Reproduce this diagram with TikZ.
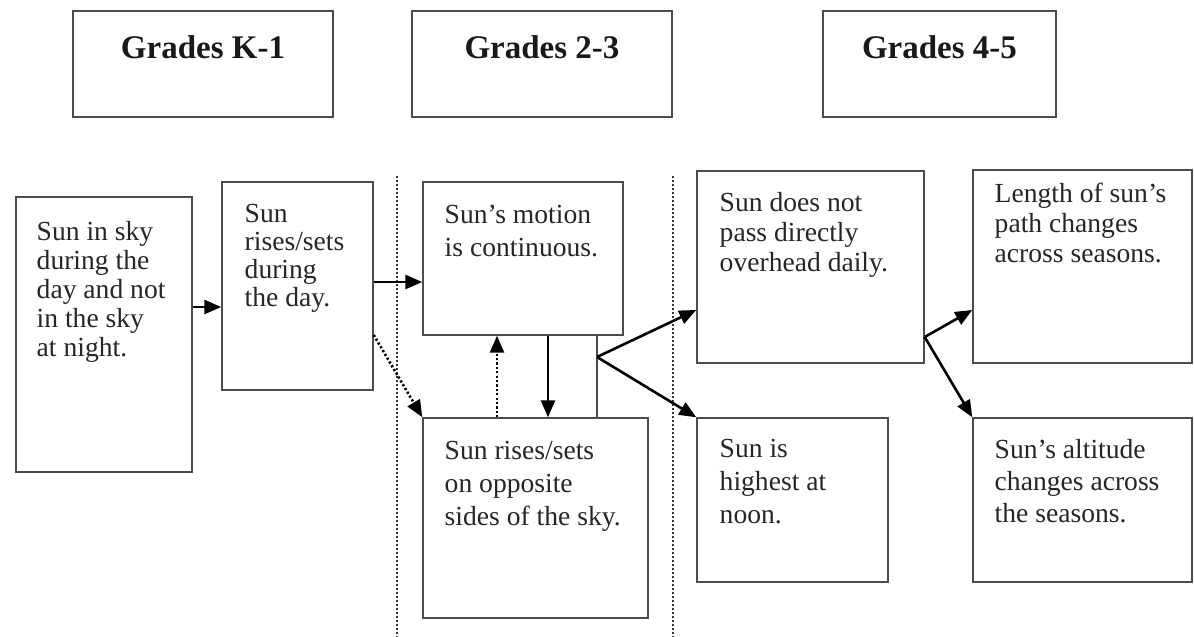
\documentclass[tikz,border=0pt]{standalone}
\usepackage{fontspec}
\setmainfont{Liberation Serif}
\usetikzlibrary{arrows.meta,fit}

\tikzset{
  gradebox/.style={draw=black!70, line width=0.7pt, inner sep=0pt},
  ideabox/.style={draw=black!70, line width=0.7pt, inner sep=0pt},
  gradelbl/.style={inner sep=0pt, anchor=base, text=black!90, font=\fontsize{16.5}{19}\bfseries},
  idealbl/.style={inner sep=0pt, anchor=north west, align=left, text=black!85, font=\fontsize{13.8}{#1}\selectfont},
  idealbl/.default=16,
  flow/.style={line width=1.3pt, -{Triangle[length=8.5pt,width=7pt]}},
  hint/.style={flow, dash pattern=on 1.1pt off 1.1pt},
  divider/.style={black!80, line width=0.6pt, dash pattern=on 0.8pt off 1.2pt},
  link/.style={black!70, line width=0.7pt},
}

\begin{document}
\begin{tikzpicture}[x=0.5pt,y=-0.5pt]
  \useasboundingbox (0,0) rectangle (1194,637);
  % grade headings
  \node[gradebox, fit={(73,11) (333,117)}] (k1) {};
  \node[gradelbl] (k1-t) at (k1.north |- 0,58) {Grades K-1};
  \node[gradebox, fit={(412,11) (672,117)}] (g23) {};
  \node[gradelbl] (g23-t) at (g23.north |- 0,58) {Grades 2-3};
  \node[gradebox, fit={(823,11) (1056,117)}] (g45) {};
  \node[gradelbl] (g45-t) at (g45.north |- 0,58) {Grades 4-5};
  % dotted dividers between the bands
  \draw[divider] (397,176) -- (397,637);
  \draw[divider] (673,176) -- (673,637);
  % ideas
  \node[ideabox, fit={(16,197) (192,472)}] (b1) {};
  \node[idealbl=14.5] (b1-t) at ([shift={(21,25)}]b1.north west)
    {Sun in sky\\during the\\day and not\\in the sky\\at night.};
  \node[ideabox, fit={(222,182) (373,390)}] (b2) {};
  \node[idealbl=14] (b2-t) at ([shift={(23,23)}]b2.north west)
    {Sun\\rises/sets\\during\\the day.};
  \node[ideabox, fit={(423,182) (623,335)}] (b3) {};
  \node[idealbl=16.5] (b3-t) at ([shift={(22,23)}]b3.north west)
    {Sun’s motion\\is continuous.};
  \node[ideabox, fit={(423,418) (648,618)}] (b4) {};
  \node[idealbl=16.5] (b4-t) at ([shift={(22,24)}]b4.north west)
    {Sun rises/sets\\on opposite\\sides of the sky.};
  \node[ideabox, fit={(697,171) (924,363)}] (b5) {};
  \node[idealbl=15] (b5-t) at ([shift={(23,22)}]b5.north west)
    {Sun does not\\pass directly\\overhead daily.};
  \node[ideabox, fit={(697,418) (888,582)}] (b6) {};
  \node[idealbl=16.5] (b6-t) at ([shift={(23,22)}]b6.north west)
    {Sun is\\highest at\\noon.};
  \node[ideabox, fit={(973,170) (1192,363)}] (b7) {};
  \node[idealbl=15] (b7-t) at ([shift={(22,13)}]b7.north west)
    {Length of sun’s\\path changes\\across seasons.};
  \node[ideabox, fit={(973,418) (1192,582)}] (b8) {};
  \node[idealbl=16] (b8-t) at ([shift={(22,22)}]b8.north west)
    {Sun’s altitude\\changes across\\the seasons.};
  % connectors
  \draw[flow] (b1.east |- 0,307) -- (b2.west |- 0,307);
  \draw[flow] (b2.east |- 0,282) -- (b3.west |- 0,282);
  \draw[hint] (b2.east |- 0,335) -- (b4.north west);
  \draw[hint] (b4.north -| 497,0) -- (b3.south -| 497,0);
  \draw[flow] (b3.south -| 548,0) -- (b4.north -| 548,0);
  \draw[link] (b3.south -| 597,0) -- (b4.north -| 597,0);
  \coordinate (fork1) at (597,357);
  \draw[flow] (fork1) -- (b5.west |- 0,310);
  \draw[flow] (fork1) -- (b6.north west);
  \coordinate (fork2) at (b5.east |- 0,337);
  \draw[flow] (fork2) -- (b7.west |- 0,310);
  \draw[flow] (fork2) -- (b8.north west);
\end{tikzpicture}
\end{document}
